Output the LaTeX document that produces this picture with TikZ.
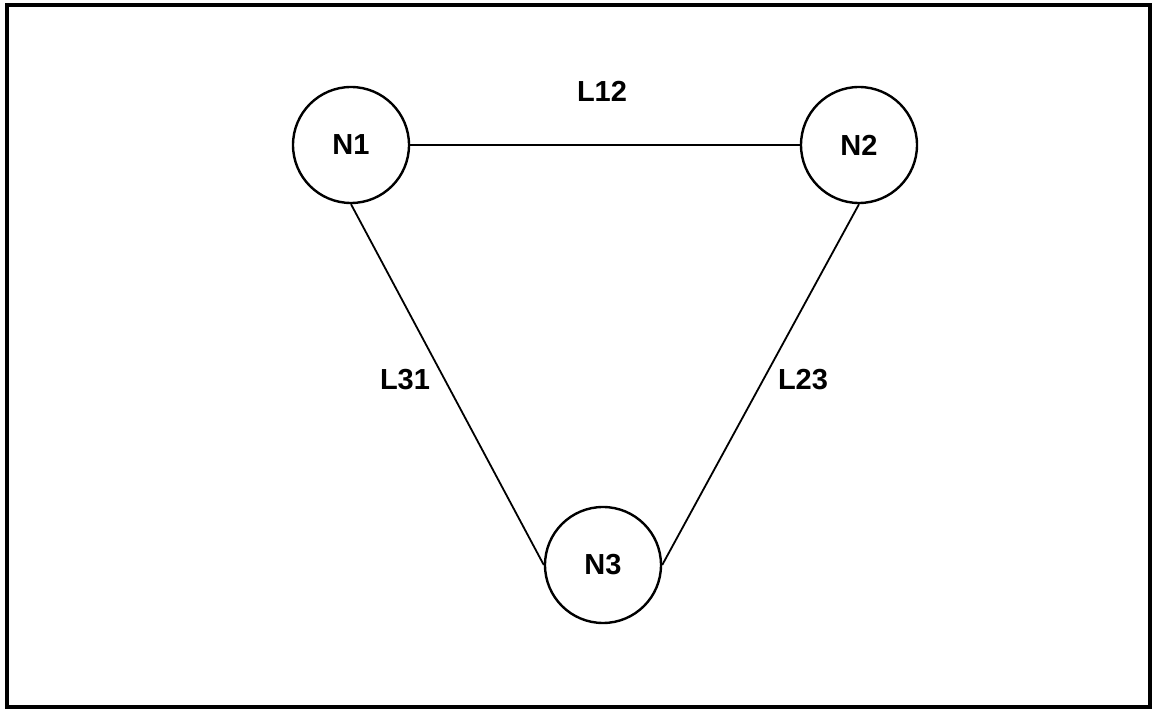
\documentclass[tikz,border=0pt]{standalone}
\usepackage{fontspec}
\setmainfont{Liberation Sans}
\usepackage{tikz}
\usetikzlibrary{positioning}

\begin{document}
\begin{tikzpicture}[
    x=0.5pt, y=-0.5pt,
    site/.style={circle, draw, line width=1.2pt, minimum size=58pt, inner sep=0pt, font=\bfseries\fontsize{14.5}{16}\selectfont},
    lbl/.style={font=\bfseries\fontsize{14.5}{16}\selectfont},
    link/.style={line width=0.9pt}
]
    \useasboundingbox (0,0) rectangle (1158,716);
    \draw[line width=1.8pt] (7,5) rectangle (1150,707);

    \node[site] (n1) at (351,145) {N1};
    \node[site] (n2) at (859,145) {N2};
    \node[site] (n3) at (603,565) {N3};

    \node[lbl] (l12) at (602,91) {L12};
    \node[lbl] (l31) at (405,380) {L31};
    \node[lbl] (l23) at (803,380) {L23};

    \draw[link] (n1.east) -- (n2.west);
    \draw[link] (n1.south) -- (n3.west);
    \draw[link] (n2.south) -- (n3.east);
\end{tikzpicture}
\end{document}
